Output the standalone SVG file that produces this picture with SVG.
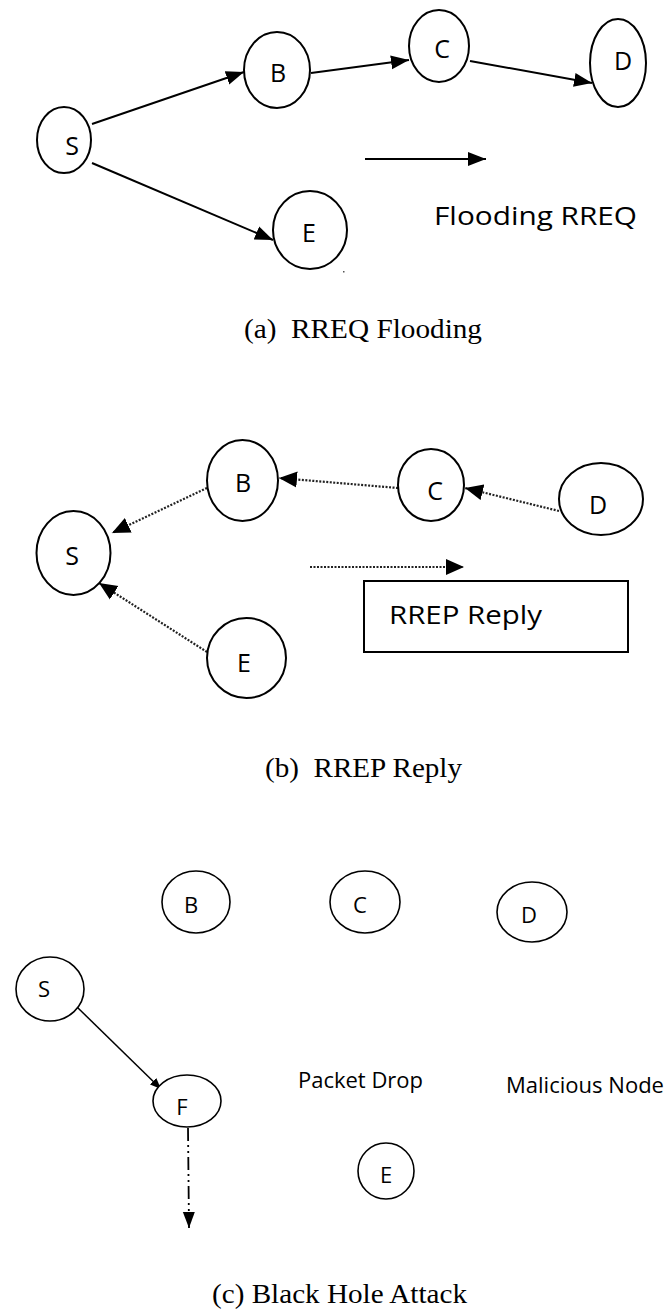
<svg xmlns="http://www.w3.org/2000/svg" width="666" height="1309" viewBox="0 0 666 1309">
<style>
.nd{fill:#fff;stroke:#000;stroke-width:2}
.nd2{fill:#fff;stroke:#000;stroke-width:1.6}
.lb{font-family:"Open Sans","DejaVu Sans",sans-serif;font-size:25px;fill:#000;text-anchor:middle}
.lb2{font-family:"Open Sans","DejaVu Sans",sans-serif;font-size:22px;fill:#000;text-anchor:middle}
.tx{font-family:"Open Sans","DejaVu Sans",sans-serif;fill:#000}
.cap{font-family:"Liberation Serif","Times New Roman",serif;font-size:27px;fill:#000}
.sol{stroke:#000;stroke-width:2;fill:none}
.dot{stroke:#222;stroke-width:2.2;stroke-dasharray:2 1.5;fill:none}
.thin{stroke:#000;stroke-width:1.5;fill:none}
.dd{stroke:#000;stroke-width:1.8;stroke-dasharray:13 4 2 4 2 4;fill:none}
</style>
<defs>
<marker id="ah" markerUnits="userSpaceOnUse" markerWidth="19" markerHeight="16" refX="18" refY="8" orient="auto">
<path d="M0,1 L18,8 L0,15 z" fill="#000"/>
</marker>
<marker id="ahs" markerUnits="userSpaceOnUse" markerWidth="12" markerHeight="10" refX="11" refY="5" orient="auto">
<path d="M0,0.5 L11,5 L0,9.5 z" fill="#000"/>
</marker>
<marker id="ahd" markerUnits="userSpaceOnUse" markerWidth="19" markerHeight="17" refX="18" refY="8.5" orient="auto">
<path d="M0,0.5 L18,8.5 L0,16.5 z" fill="#000"/>
</marker>
<marker id="ahv" markerUnits="userSpaceOnUse" markerWidth="17" markerHeight="14" refX="16" refY="7" orient="auto">
<path d="M0,1 L16,7 L0,13 z" fill="#000"/>
</marker>
</defs>
<rect width="666" height="1309" fill="#fff"/>

<!-- (a) RREQ Flooding -->
<g id="connectors-a">
<line class="sol" x1="92" y1="124" x2="244" y2="72" marker-end="url(#ah)"/>
<line class="sol" x1="311" y1="73" x2="409" y2="60" marker-end="url(#ah)"/>
<line class="sol" x1="470" y1="61" x2="592" y2="83" marker-end="url(#ah)"/>
<line class="sol" x1="92" y1="163" x2="273" y2="240" marker-end="url(#ah)"/>
<line class="sol" x1="365" y1="159" x2="486" y2="159" marker-end="url(#ah)"/>
</g>
<g id="a-S"><ellipse class="nd" cx="64" cy="140" rx="27" ry="33"/><text class="lb" x="72" y="155">S</text></g>
<g id="a-B"><ellipse class="nd" cx="277" cy="70" rx="33" ry="38"/><text class="lb" x="278" y="82">B</text></g>
<g id="a-C"><ellipse class="nd" cx="439" cy="46" rx="30" ry="36"/><text class="lb" x="442" y="58">C</text></g>
<g id="a-D"><ellipse class="nd" cx="618" cy="63" rx="28" ry="44"/><text class="lb" x="623" y="70">D</text></g>
<g id="a-E"><ellipse class="nd" cx="310" cy="230" rx="37" ry="39"/><text class="lb" x="309" y="242">E</text></g>
<rect x="343" y="271" width="1.5" height="1.5" fill="#555"/>
<text class="tx" x="434" y="225" font-size="25" textLength="203" lengthAdjust="spacingAndGlyphs">Flooding RREQ</text>
<text class="cap" x="244" y="338" xml:space="preserve" textLength="238" lengthAdjust="spacingAndGlyphs">(a)  RREQ Flooding</text>

<!-- (b) RREP Reply -->
<g id="connectors-b">
<line class="dot" x1="207" y1="488" x2="112" y2="533" marker-end="url(#ahd)"/>
<line class="dot" x1="207" y1="652" x2="99" y2="583" marker-end="url(#ahd)"/>
<line class="dot" x1="398" y1="488" x2="279" y2="478" marker-end="url(#ahd)"/>
<line class="dot" x1="559" y1="511" x2="465" y2="488" marker-end="url(#ahd)"/>
<line class="dot" x1="310" y1="567" x2="464" y2="567" marker-end="url(#ahd)"/>
</g>
<g id="b-S"><ellipse class="nd" cx="73.5" cy="553" rx="37" ry="42"/><text class="lb" x="72" y="565">S</text></g>
<g id="b-B"><ellipse class="nd" cx="242.5" cy="480.5" rx="35.5" ry="40.5"/><text class="lb" x="243" y="492">B</text></g>
<g id="b-C"><ellipse class="nd" cx="431" cy="485" rx="33" ry="36"/><text class="lb" x="435" y="500">C</text></g>
<g id="b-D"><ellipse class="nd" cx="601" cy="499" rx="42" ry="36"/><text class="lb" x="598" y="514">D</text></g>
<g id="b-E"><ellipse class="nd" cx="246.5" cy="658" rx="39.5" ry="40"/><text class="lb" x="244" y="672">E</text></g>
<g id="b-legend"><rect x="364" y="581" width="264" height="71" fill="#fff" stroke="#000" stroke-width="2"/>
<text class="tx" x="389" y="624" font-size="26" textLength="153" lengthAdjust="spacingAndGlyphs">RREP Reply</text></g>
<text class="cap" x="265" y="777" xml:space="preserve" textLength="197" lengthAdjust="spacingAndGlyphs">(b)  RREP Reply</text>

<!-- (c) Black Hole Attack -->
<g id="connectors-c">
<line class="thin" x1="77" y1="1007" x2="161" y2="1089" marker-end="url(#ahs)"/>
<line class="dd" x1="188" y1="1128" x2="189" y2="1228" marker-end="url(#ahv)"/>
</g>
<g id="c-B"><ellipse class="nd2" cx="196" cy="902" rx="34" ry="31"/><text class="lb2" x="191" y="913">B</text></g>
<g id="c-C"><ellipse class="nd2" cx="365" cy="902" rx="35" ry="31"/><text class="lb2" x="360" y="913">C</text></g>
<g id="c-D"><ellipse class="nd2" cx="532" cy="912" rx="35" ry="30"/><text class="lb2" x="529" y="923">D</text></g>
<g id="c-S"><ellipse class="nd2" cx="50" cy="989" rx="34" ry="32"/><text class="lb2" x="44" y="997">S</text></g>
<g id="c-F"><ellipse class="nd2" cx="187" cy="1101" rx="34" ry="26"/><text class="lb2" x="182" y="1115">F</text></g>
<g id="c-E"><ellipse class="nd2" cx="386" cy="1171" rx="28" ry="28"/><text class="lb2" x="386" y="1183">E</text></g>
<text class="tx" x="298" y="1088" font-size="21" textLength="125" lengthAdjust="spacingAndGlyphs">Packet Drop</text>
<text class="tx" x="506" y="1093" font-size="21" textLength="158" lengthAdjust="spacingAndGlyphs">Malicious Node</text>
<text class="cap" x="212" y="1303" textLength="255" lengthAdjust="spacingAndGlyphs">(c) Black Hole Attack</text>
</svg>
